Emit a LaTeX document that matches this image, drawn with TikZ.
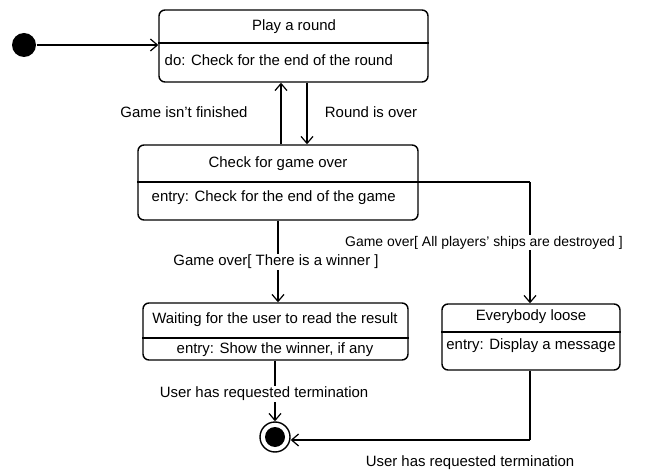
\documentclass[tikz,border=0pt]{standalone}
\usepackage{fontspec}
\setmainfont{Liberation Sans}
\usetikzlibrary{arrows.meta}
\begin{document}
\begin{tikzpicture}[x=1bp,y=-1bp,
  line width=1.4bp,
  font=\fontsize{15}{17}\selectfont,
  statebox/.style={draw,rounded corners=6bp,inner sep=0pt},
  txt/.style={inner sep=1bp},
  lbl/.style={fill=white,inner sep=1bp},
  trans/.style={-{Straight Barb[length=7bp,width=12bp,line width=1.2bp]}},
  startdot/.style={circle,fill=black,inner sep=0pt,minimum size=24bp},
  enddot/.style={circle,draw,fill=white,inner sep=0pt,minimum size=30bp,line width=1.4bp,
    path picture={\fill[black] (path picture bounding box.center) circle (10bp);}}
]
\useasboundingbox (0,0) rectangle (668,476);

% states
\node[startdot] (init) at (24,45) {};
\node[statebox,minimum width=269bp,minimum height=72bp] (play) at (293.5,46) {};
\node[statebox,minimum width=280bp,minimum height=75bp] (check) at (278,182.5) {};
\node[statebox,minimum width=265bp,minimum height=57bp] (wait) at (275.5,331.5) {};
\node[statebox,minimum width=178bp,minimum height=66bp] (loose) at (531,337) {};
\node[enddot] (final) at (275,437) {};

% compartment dividers
\draw (play.west |- 0,43) -- (play.east |- 0,43);
\draw (check.west |- 0,182) -- (check.east |- 0,182);
\draw (wait.west |- 0,338) -- (wait.east |- 0,338);
\draw (loose.west |- 0,332) -- (loose.east |- 0,332);

% state texts
\node[txt] (playname) at (294,27) {Play a round};
\node[txt,anchor=west] (playdo) at (163,60) {do: Check for the end of the round};
\node[txt] (checkname) at (278,164) {Check for game over};
\node[txt,anchor=west] (checkentry) at (150,198) {entry: Check for the end of the game};
\node[txt] (waitname) at (275,320) {Waiting for the user to read the result};
\node[txt] (waitentry) at (275,350) {entry: Show the winner, if any};
\node[txt] (loosename) at (531,317) {Everybody loose};
\node[txt] (looseentry) at (531,346) {entry: Display a message};

% connector bends
\coordinate (c1) at (530,182);
\coordinate (c2) at (530,440);

% transitions
\draw[trans] (init) -- (play.west |- init);
\draw[trans] (check.north -| 281,0) -- (play.south -| 281,0);
\draw[trans] (play.south -| 307,0) -- (check.north -| 307,0);
\draw (check.east |- c1) -- (c1);
\draw[trans] (c1) -- (loose.north -| c1);
\draw[trans] (check.south -| 278,0) -- (wait.north -| 278,0);
\draw[trans] (wait.south -| final) -- (final.north);
\draw (loose.south -| c2) -- (c2);
\draw[trans] (c2) -- (final.east |- c2);

% transition labels
\node[txt] (l1) at (184,112) {Game isn't finished};
\node[txt] (l2) at (371,112) {Round is over};
\node[lbl,font=\fontsize{14}{16}\selectfont] (l3) at (484,243) {Game over[ All players' ships are destroyed ]};
\node[lbl] (l4) at (276,262) {Game over[ There is a winner ]};
\node[lbl] (l5) at (264,394) {User has requested termination};
\node[txt] (l6) at (470,463) {User has requested termination};
\end{tikzpicture}
\end{document}
